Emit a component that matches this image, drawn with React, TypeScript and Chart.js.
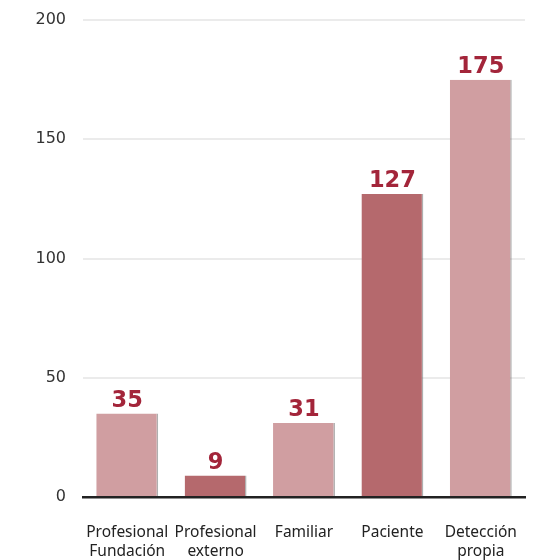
import React, { useEffect, useRef } from "react";
import { Chart, registerables } from "chart.js";

Chart.register(...registerables);

const categories: string[][] = [
  ["Profesional", "Fundación"],
  ["Profesional", "externo"],
  ["Familiar"],
  ["Paciente"],
  ["Detección", "propia"],
];
const values: number[] = [35, 9, 31, 127, 175];
const barColors: string[] = ["#d09ea1", "#b5696d", "#d09ea1", "#b5696d", "#d09ea1"];
const yTicks: number[] = [0, 50, 100, 150, 200];

const valueLabelPlugin = {
  id: "valueLabels",
  afterDatasetsDraw(chart: any) {
    const { ctx } = chart;
    const meta = chart.getDatasetMeta(0);
    ctx.save();
    ctx.font = "bold 22.5px 'DejaVu Sans'";
    ctx.fillStyle = "#a3253a";
    ctx.textAlign = "center";
    ctx.textBaseline = "alphabetic";
    meta.data.forEach((bar: any, i: number) => {
      ctx.fillText(String(values[i]), bar.x, bar.y - 7);
    });
    ctx.restore();
  },
};

export default function App() {
  const ref = useRef<HTMLCanvasElement>(null);
  useEffect(() => {
    if (!ref.current) return;
    const chart = new Chart(ref.current, {
      type: "bar",
      data: {
        labels: categories,
        datasets: [
          {
            data: values,
            backgroundColor: barColors,
            borderColor: "rgba(110,110,110,0.55)",
            borderWidth: { top: 0, left: 0, bottom: 0, right: 1.5 },
            borderSkipped: false,
            barPercentage: 0.7,
            categoryPercentage: 1,
          },
        ],
      },
      options: {
        responsive: false,
        animation: false,
        layout: { padding: { top: 20, right: 16, left: 0, bottom: 0 } },
        plugins: { legend: { display: false }, tooltip: { enabled: false } },
        scales: {
          x: {
            grid: { display: false, drawTicks: false },
            border: { display: true, color: "#222", width: 2.5, z: 1 },
            ticks: {
              padding: 26,
              color: "#222",
              font: { family: "'Noto Sans'", size: 15.5, lineHeight: 1.23 },
              maxRotation: 0,
              autoSkip: false,
            },
            afterFit: (s: any) => {
              s.height = 63;
              s.paddingLeft = 0;
              s.paddingRight = 0;
              s.paddingTop = 0;
              s.paddingBottom = 0;
            },
          },
          y: {
            min: 0,
            max: 200,
            afterBuildTicks: (s: any) => {
              s.ticks = yTicks.map((v) => ({ value: v }));
            },
            grid: { color: "#ebebeb", lineWidth: 2, drawTicks: false },
            border: { display: false },
            ticks: {
              padding: 17,
              color: "#333",
              font: { family: "'DejaVu Sans'", size: 16 },
            },
            afterFit: (s: any) => {
              s.width = 83;
              s.paddingLeft = 0;
              s.paddingRight = 0;
              s.paddingTop = 0;
              s.paddingBottom = 0;
            },
          },
        },
      },
      plugins: [valueLabelPlugin],
    });
    return () => chart.destroy();
  }, []);
  return (
    <div style={{ position: "absolute", left: 0, top: 0, width: 541, height: 560, background: "#fff" }}>
      <canvas ref={ref} width={541} height={560} style={{ display: "block" }} />
    </div>
  );
}
